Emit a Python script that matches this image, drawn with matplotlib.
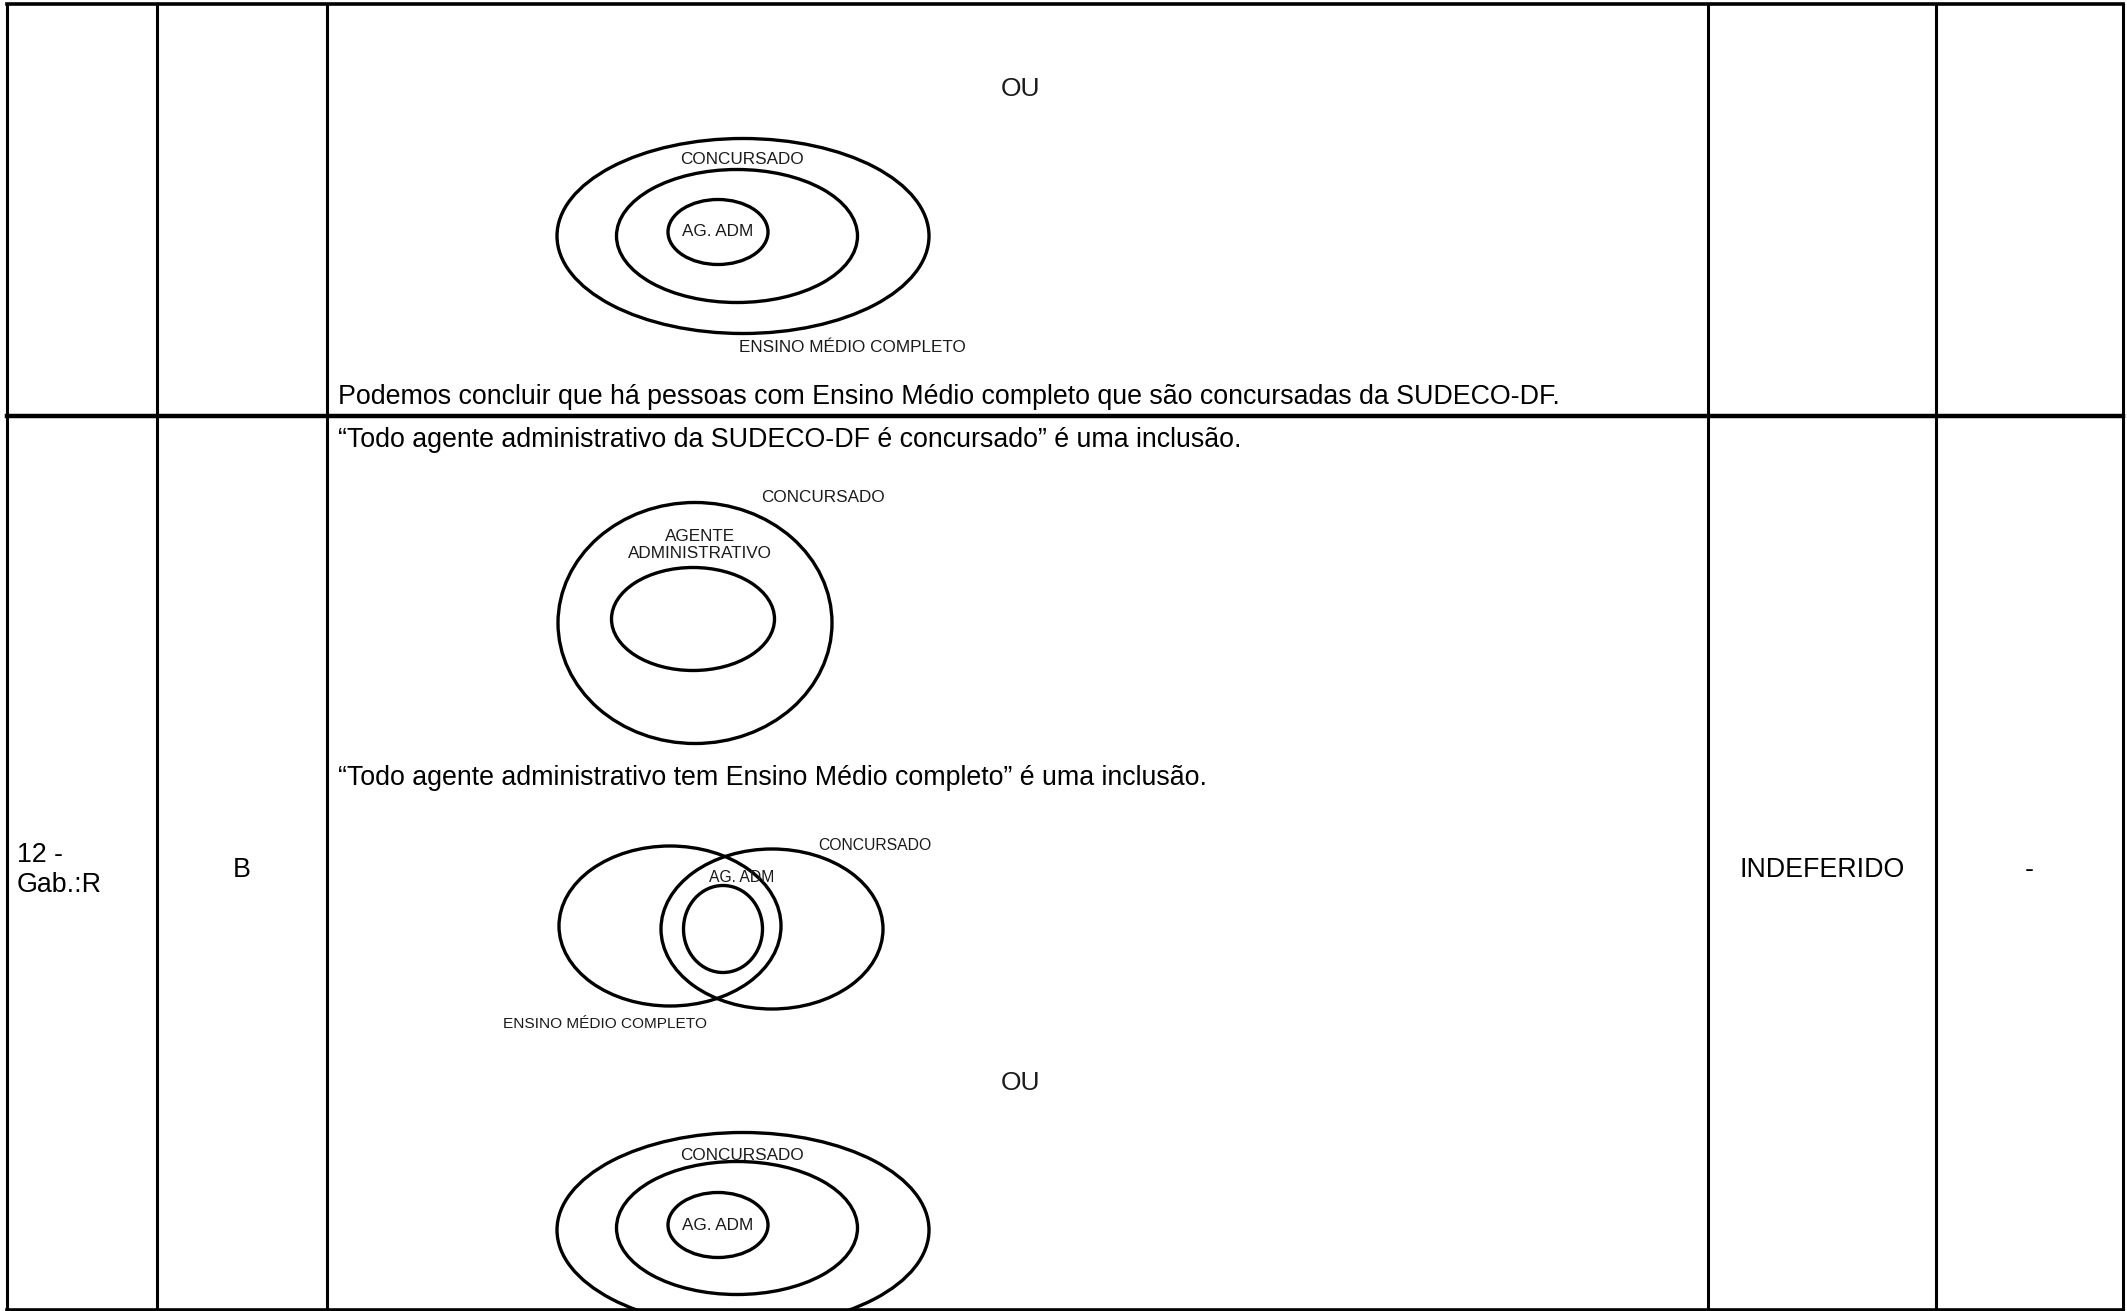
import matplotlib.pyplot as plt
from matplotlib.patches import Ellipse

plt.rcParams['font.family'] = ['Liberation Sans', 'DejaVu Sans']

# table grid (pixel coordinates of the page)
col_lines = [7, 157, 327, 1708, 1936, 2123]
row_lines = [4, 416, 1310]

# row cells of the second row
cell_texts = ["12 -\nGab.:R", "B", "INDEFERIDO", "-"]

# sentences in the big cell
sentences = [
    "Podemos concluir que há pessoas com Ensino Médio completo que são concursadas da SUDECO-DF.",
    "\u201cTodo agente administrativo da SUDECO-DF é concursado\u201d é uma inclusão.",
    "\u201cTodo agente administrativo tem Ensino Médio completo\u201d é uma inclusão.",
]
sentence_y = [397, 440, 778]

# ellipses: center x, center y, width, height
ellipses = [
    # nested, top row
    (743, 236, 372, 195), (737, 236, 241, 133), (718, 232, 100, 65),
    # agente administrativo inside concursado
    (695, 623, 274, 241), (693, 619, 163, 103),
    # venn
    (670, 926, 222, 160), (772, 929, 222, 160), (723, 929, 79, 87),
    # nested, bottom
    (743, 1230, 372, 195), (737, 1228, 241, 133), (718, 1225, 100, 65),
]

# diagram labels
labels = ["OU", "CONCURSADO", "AG. ADM", "ENSINO MÉDIO COMPLETO",
          "CONCURSADO", "AGENTE\nADMINISTRATIVO",
          "CONCURSADO", "AG. ADM", "ENSINO MÉDIO COMPLETO",
          "OU", "CONCURSADO", "AG. ADM"]
label_xy = [(1020, 89), (742, 160), (718, 232), (852, 348),
            (823, 497), (700, 545),
            (875, 846), (742, 878), (605, 1024),
            (1020, 1083), (742, 1155), (718, 1225)]
label_size = [19, 12.3, 12.3, 12.3, 12.3, 12.3, 11.3, 11.3, 11.1, 19, 12.3, 12.3]

fig = plt.figure(figsize=(21.27, 13.11), dpi=100)
ax = fig.add_axes([0, 0, 1, 1])
ax.set_xlim(0, 2127)
ax.set_ylim(1311, 0)
ax.axis('off')

# grid lines
for x in col_lines:
    ax.plot([x, x], [row_lines[0], row_lines[-1]], color='black', lw=2.2, solid_capstyle='projecting')
for i, y in enumerate(row_lines):
    ax.plot([col_lines[0], col_lines[-1]], [y, y], color='black', lw=3.2 if i == 1 else 2.6,
            solid_capstyle='projecting')

for (cx, cy, w, h) in ellipses:
    ax.add_patch(Ellipse((cx, cy), w, h, fill=False, edgecolor='black', lw=2.4))

for txt, (x, y), s in zip(labels, label_xy, label_size):
    ax.text(x, y, txt, ha='center', va='center', fontsize=s, color='#1a1a1a', linespacing=1.1)

for txt, y in zip(sentences, sentence_y):
    ax.text(338, y, txt, ha='left', va='center', fontsize=19.3, color='black')

# cells of second row
mid_y = 870
ax.text(17, mid_y, cell_texts[0], ha='left', va='center', fontsize=19.3, linespacing=1.15)
ax.text((col_lines[1] + col_lines[2]) / 2, mid_y, cell_texts[1], ha='center', va='center', fontsize=19.3)
ax.text((col_lines[3] + col_lines[4]) / 2, mid_y, cell_texts[2], ha='center', va='center', fontsize=19.3)
ax.text((col_lines[4] + col_lines[5]) / 2, mid_y, cell_texts[3], ha='center', va='center', fontsize=19.3)

fig.savefig('out.png', dpi=100)
